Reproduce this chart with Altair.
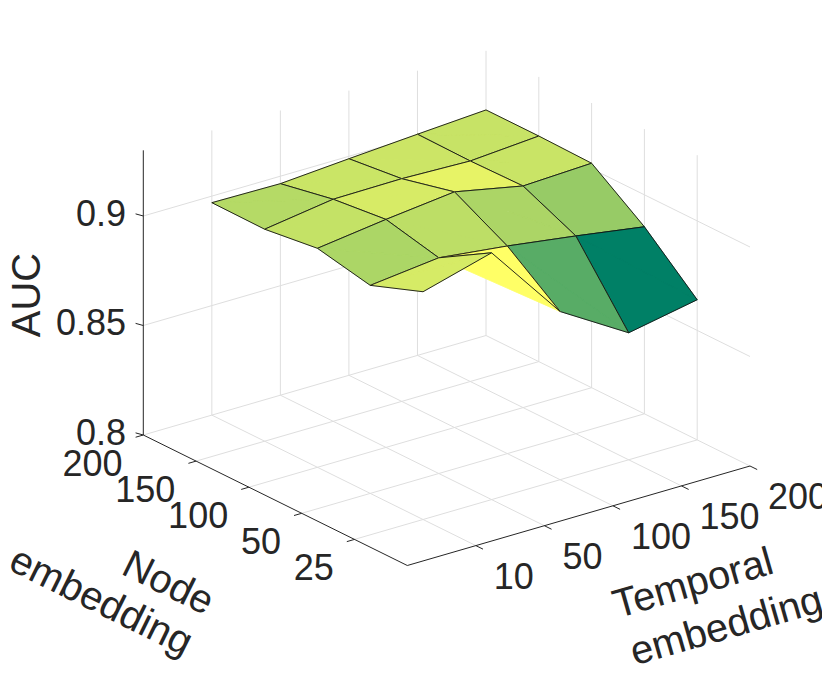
import math
import altair as alt
import pandas as pd

# ---------------- data ----------------
node_labels = ["25", "50", "100", "150", "200"]          # Node embedding
temporal_labels = ["10", "50", "100", "150", "200"]      # Temporal embedding
# AUC surface: one list per node-embedding size, values along temporal embedding
auc_node_25 = [0.9040, 0.9127, 0.8768, 0.8580, 0.8640]
auc_node_50 = [0.8950, 0.8985, 0.8948, 0.8903, 0.8854]
auc_node_100 = [0.9000, 0.9041, 0.9076, 0.9012, 0.9025]
auc_node_150 = [0.8968, 0.9014, 0.9017, 0.9007, 0.9030]
auc_node_200 = [0.8970, 0.8966, 0.8989, 0.9010, 0.9030]
auc_ticks = [0.8, 0.85, 0.9]
auc_limits = [0.8, 0.93]
summer = ["#008066", "#ffff66"]   # MATLAB 'summer' colormap ends

auc = [auc_node_25, auc_node_50, auc_node_100, auc_node_150, auc_node_200]
N = len(node_labels)
T = len(temporal_labels)
Z0, Z1 = auc_limits
cmin = min(min(r) for r in auc)
cmax = max(max(r) for r in auc)

# ---------------- view (orthographic 3-D projection, page pixels) ----------------
MARGIN = 8
ORIGIN = (407.3, 565.5)        # front floor corner
NODE_VEC = (-52.8, -26.1)      # one node-axis unit
TEMP_VEC = (68.54, -19.9)      # one temporal-axis unit
Z_PX = 2190.0                  # pixels per AUC unit

GRID = "#dedede"
AXIS = "#262626"
FONT = "Liberation Sans"
TICK_FS = 36
TITLE_FS = 40


def proj(n, t, z):
    return [round(ORIGIN[0] + NODE_VEC[0] * n + TEMP_VEC[0] * t, 2),
            round(ORIGIN[1] + NODE_VEC[1] * n + TEMP_VEC[1] * t - Z_PX * (z - Z0), 2)]


# depth direction recovered from orthogonality of the projected axes
pa = (NODE_VEC[0], -NODE_VEC[1])
pb = (TEMP_VEC[0], -TEMP_VEC[1])
pc = (0.0, Z_PX)
dot = lambda u, v: u[0] * v[0] + u[1] * v[1]
ab, ac, bc = dot(pa, pb), dot(pa, pc), dot(pb, pc)
dn = math.sqrt(-ab * ac / bc)
dt = -ab / dn
dz = -ac / dn


def depth(n, t, z):
    return dn * n + dt * t + dz * (z - Z0)


def unit(v):
    L = math.hypot(v[0], v[1])
    return (v[0] / L, v[1] / L)


def line(coords, kind):
    return {"type": "Feature",
            "geometry": {"type": "LineString", "coordinates": coords},
            "properties": {"kind": kind}}


def ring(pts):
    # closed ring with a consistent (screen) orientation so overlapping
    # triangles of a folded face do not cancel under the nonzero fill rule
    area = 0.0
    for i in range(len(pts)):
        x1, y1 = pts[i]
        x2, y2 = pts[(i + 1) % len(pts)]
        area += x1 * y2 - x2 * y1
    if area < 0:
        pts = pts[::-1]
    return pts + [pts[0]]


# ---------------- grid lines ----------------
grid_feats = []
for k in range(1, N + 1):
    grid_feats.append(line([proj(k, 0, Z0), proj(k, T, Z0)], "grid"))
for j in range(1, T + 1):
    grid_feats.append(line([proj(0, j, Z0), proj(N, j, Z0)], "grid"))
for j in range(1, T + 1):
    grid_feats.append(line([proj(N, j, Z0), proj(N, j, Z1)], "grid"))
for k in range(1, N):
    grid_feats.append(line([proj(k, T, Z0), proj(k, T, Z1)], "grid"))
for z in auc_ticks[1:]:
    grid_feats.append(line([proj(N, 0, z), proj(N, T, z), proj(0, T, z)], "grid"))

# ---------------- axis lines & ticks ----------------
axis_feats = [
    line([proj(N, 0, Z0), proj(N, 0, Z1)], "axis"),
    line([proj(N, 0, Z0), proj(0, 0, Z0), proj(0, T, Z0)], "axis"),
]
TL = 8.0
ut = unit((-TEMP_VEC[0], -TEMP_VEC[1]))
un = unit((-NODE_VEC[0], -NODE_VEC[1]))
uz = unit((-8.3, -2.3))
for k in range(1, N + 1):
    p = proj(k, 0, Z0)
    axis_feats.append(line([p, [p[0] + TL * ut[0], p[1] + TL * ut[1]]], "axis"))
for j in range(1, T + 1):
    p = proj(0, j, Z0)
    axis_feats.append(line([p, [p[0] + TL * un[0], p[1] + TL * un[1]]], "axis"))
for z in auc_ticks:
    p = proj(N, 0, z)
    axis_feats.append(line([p, [p[0] + TL * uz[0], p[1] + TL * uz[1]]], "axis"))

# ---------------- surface (painter's order) ----------------
quads = []
for k in range(N - 1):
    for j in range(T - 1):
        n, t = k + 1, j + 1
        c00 = (n, t, auc[k][j])
        c10 = (n + 1, t, auc[k + 1][j])
        c11 = (n + 1, t + 1, auc[k + 1][j + 1])
        c01 = (n, t + 1, auc[k][j + 1])
        d = sum(depth(*c) for c in (c00, c10, c11, c01)) / 4.0
        quads.append((d, c00, c10, c11, c01, auc[k][j]))
quads.sort(key=lambda q: -q[0])

surf_feats = []
for d, c00, c10, c11, c01, cval in quads:
    P = {name: proj(*c) for name, c in (("00", c00), ("10", c10), ("11", c11), ("01", c01))}
    tri1 = ring([P["00"], P["10"], P["01"]])
    tri2 = ring([P["10"], P["11"], P["01"]])
    surf_feats.append({"type": "Feature",
                       "geometry": {"type": "MultiPolygon", "coordinates": [[tri1], [tri2]]},
                       "properties": {"kind": "face", "c": cval}})
    surf_feats.append({"type": "Feature",
                       "geometry": {"type": "LineString",
                                    "coordinates": [P["00"], P["10"], P["11"], P["01"], P["00"]]},
                       "properties": {"kind": "edge", "c": cval}})

PROJ = dict(type="identity", scale=1, translate=[-MARGIN, -MARGIN])

grid_layer = alt.Chart(alt.Data(values=grid_feats)).mark_geoshape(
    filled=False, stroke=GRID, strokeWidth=1).project(**PROJ)

axis_layer = alt.Chart(alt.Data(values=axis_feats)).mark_geoshape(
    filled=False, stroke=AXIS, strokeWidth=1).project(**PROJ)

cscale = alt.Scale(domain=[cmin, cmax], range=summer, interpolate="rgb")
is_face = "datum.properties.kind == 'face'"
surf_layer = alt.Chart(alt.Data(values=surf_feats)).mark_geoshape(
    strokeJoin="round").encode(
    fill=alt.condition(is_face, alt.Fill("properties.c:Q", scale=cscale, legend=None),
                       alt.value("transparent")),
    stroke=alt.condition(is_face, alt.Stroke("properties.c:Q", scale=cscale, legend=None),
                         alt.value("#111111")),
    strokeWidth=alt.condition(is_face, alt.value(0.6), alt.value(0.9)),
).project(**PROJ)

# ---------------- text ----------------
BASE_OFF = 0.358 * TICK_FS   # alphabetic baseline below glyph centre (digits)

node_rows, temp_rows, z_rows = [], [], []
for i, lab in enumerate(node_labels):
    p = proj(i + 1, 0, Z0)
    node_rows.append({"x": p[0] - 20.7 - MARGIN, "y": p[1] + 28.2 + BASE_OFF - MARGIN, "label": lab})
for i, lab in enumerate(temporal_labels):
    p = proj(0, i + 1, Z0)
    temp_rows.append({"x": p[0] + 18.0 - MARGIN, "y": p[1] + 30.6 + BASE_OFF - MARGIN, "label": lab})
for z in auc_ticks:
    p = proj(N, 0, z)
    z_rows.append({"x": p[0] - 17.3 - MARGIN, "y": p[1] - 3.0 + BASE_OFF - MARGIN, "label": f"{z:g}"})


def text_layer(rows, align, size=TICK_FS, angle=0):
    return alt.Chart(pd.DataFrame(rows)).mark_text(
        align=align, baseline="alphabetic", font=FONT, fontSize=size,
        color=AXIS, angle=angle).encode(
        x=alt.X("x:Q", scale=None), y=alt.Y("y:Q", scale=None), text="label:N")


def title_row(text, cx, cy, angle, shift_em):
    th = math.radians(angle)
    up = (math.sin(th), -math.cos(th))
    s = shift_em * TITLE_FS
    return {"x": cx - up[0] * s - MARGIN, "y": cy - up[1] * s - MARGIN, "label": text}


titles = [
    text_layer([title_row("AUC", 26.0, 295.0, 270, 0.358)], "center", TITLE_FS, 270),
    text_layer([title_row("Node", 169.0, 581.7, 26.3, 0.358)], "center", TITLE_FS, 26.3),
    text_layer([title_row("embedding", 100.0, 603.3, 26.3, 0.26)], "center", TITLE_FS, 26.3),
    text_layer([title_row("Temporal", 693.7, 585.8, 344, 0.253)], "center", TITLE_FS, 344),
    text_layer([title_row("embedding", 727.0, 628.3, 344, 0.26)], "center", TITLE_FS, 344),
]

chart = alt.layer(
    grid_layer, axis_layer, surf_layer,
    text_layer(node_rows, "right"),
    text_layer(temp_rows, "left"),
    text_layer(z_rows, "right"),
    *titles,
).properties(
    width=830 - 2 * MARGIN, height=682 - 2 * MARGIN,
    autosize=alt.AutoSizeParams(type="none"), padding=0,
).configure_view(strokeWidth=0)

chart.save("out.html", embed_options={"renderer": "svg", "actions": False})
